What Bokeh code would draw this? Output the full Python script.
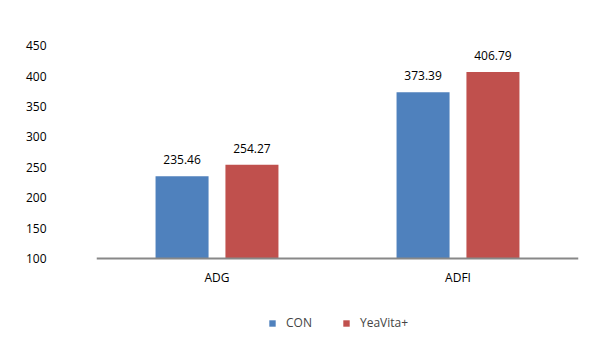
from bokeh.plotting import figure
from bokeh.models import ColumnDataSource, Range1d, FixedTicker, FactorRange, Legend, LegendItem, Span
from bokeh.transform import dodge
from bokeh.core.properties import value
from bokeh.embed import file_html
from bokeh.resources import INLINE

categories = ["ADG", "ADFI"]
con = [235.46, 373.39]
yeavita = [254.27, 406.79]
series_names = ["CON", "YeaVita+"]
yticks = [100, 150, 200, 250, 300, 350, 400, 450]
baseline = 100

FONT = "Open Sans"
BLUE = "#4F81BD"
RED = "#C0504D"

src = ColumnDataSource(dict(
    cat=categories, con=con, yv=yeavita, base=[baseline] * len(categories),
    con_lbl=[f"{v:.2f}" for v in con],
    yv_lbl=[f"{v:.2f}" for v in yeavita],
))

# frame 482 x 322 px; 370 data units span 225 px
p = figure(width=600, height=355, x_range=FactorRange(*categories),
           y_range=Range1d(-59.5, 470), output_backend="svg", toolbar_location=None,
           x_axis_location=None,
           min_border_left=96, min_border_right=22, min_border_top=33, min_border_bottom=0)
p.outline_line_color = None
p.xgrid.grid_line_color = None
p.ygrid.grid_line_color = None
p.x_range.range_padding = 0
p.background_fill_color = "white"
p.border_fill_color = "white"

r1 = p.vbar(x=dodge("cat", -0.145, range=p.x_range), top="con", bottom="base", width=0.22,
            source=src, fill_color=BLUE, line_color=None)
r2 = p.vbar(x=dodge("cat", 0.145, range=p.x_range), top="yv", bottom="base", width=0.22,
            source=src, fill_color=RED, line_color=None)

# category axis line and labels at the baseline
p.add_layout(Span(location=baseline, dimension="width", line_color="#888888", line_width=2))
p.text(x="cat", y="base", text="cat", source=src, text_align="center", text_baseline="top",
       y_offset=10, text_font=value(FONT), text_font_size="12px", text_color="#000000")

p.text(x=dodge("cat", -0.145, range=p.x_range), y="con", text="con_lbl", source=src,
       text_align="center", text_baseline="bottom", y_offset=-12,
       text_font=value(FONT), text_font_size="12px", text_color="#000000")
p.text(x=dodge("cat", 0.145, range=p.x_range), y="yv", text="yv_lbl", source=src,
       text_align="center", text_baseline="bottom", y_offset=-12,
       text_font=value(FONT), text_font_size="12px", text_color="#000000")

p.yaxis.ticker = FixedTicker(ticks=yticks)
p.yaxis.axis_line_color = None
p.yaxis.major_tick_line_color = None
p.yaxis.minor_tick_line_color = None
p.yaxis.major_label_standoff = 44
p.yaxis.major_label_text_font = FONT
p.yaxis.major_label_text_font_size = "12px"
p.yaxis.major_label_text_color = "#000000"

legend = Legend(items=[LegendItem(label=series_names[0], renderers=[r1]),
                       LegendItem(label=series_names[1], renderers=[r2])],
                orientation="horizontal", location=(172, 24),
                glyph_width=8, glyph_height=8, spacing=30, label_standoff=10,
                padding=4, margin=0,
                label_text_font=FONT, label_text_font_size="12px",
                border_line_color=None, background_fill_alpha=0)
p.add_layout(legend, "center")

open("out.html", "w").write(file_html(p, INLINE))
